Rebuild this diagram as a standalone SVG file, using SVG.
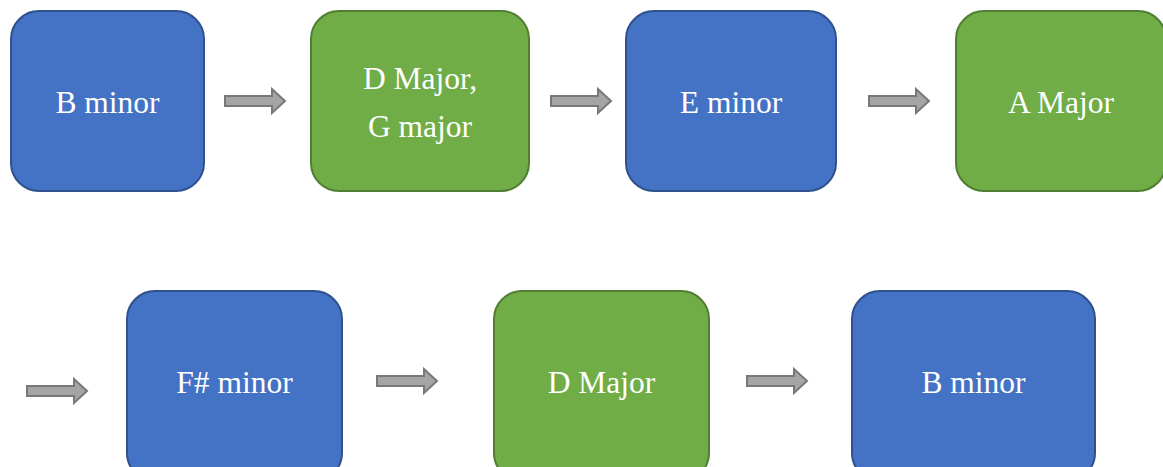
<svg xmlns="http://www.w3.org/2000/svg" width="1163" height="467" viewBox="0 0 1163 467">
  <defs>
    <style>
      .blue { fill: #4472C4; stroke: #2F528F; stroke-width: 2; }
      .green { fill: #70AD47; stroke: #507E32; stroke-width: 2; }
      .label { fill: #FFFFFF; font-family: "Liberation Serif", "Times New Roman", serif; font-size: 31.5px; text-anchor: middle; }
      .arrow { fill: #A5A5A5; stroke: #787878; stroke-width: 2; }
    </style>
    <!-- block arrow, 60 wide, centred on y=0 -->
    <polygon id="blockArrow" class="arrow" points="0,-5 47,-5 47,-12 60,0 47,12 47,5 0,5"/>
  </defs>

  <rect width="1163" height="467" fill="#FFFFFF"/>

  <g id="node-b-minor-1">
    <rect class="blue" x="11" y="11" width="193" height="180" rx="28"/>
    <text class="label" x="107.5" y="113">B minor</text>
  </g>
  <g id="node-d-g-major">
    <rect class="green" x="311" y="11" width="218" height="180" rx="28"/>
    <text class="label" x="420" y="89">D Major,</text>
    <text class="label" x="420" y="137">G major</text>
  </g>
  <g id="node-e-minor">
    <rect class="blue" x="626" y="11" width="210" height="180" rx="28"/>
    <text class="label" x="731" y="113">E minor</text>
  </g>
  <g id="node-a-major">
    <rect class="green" x="956" y="11" width="210" height="180" rx="28"/>
    <text class="label" x="1061" y="113">A Major</text>
  </g>
  <g id="node-f-sharp-minor">
    <rect class="blue" x="127" y="291" width="215" height="190" rx="28"/>
    <text class="label" x="234.5" y="393">F# minor</text>
  </g>
  <g id="node-d-major">
    <rect class="green" x="494" y="291" width="215" height="190" rx="28"/>
    <text class="label" x="601.5" y="393">D Major</text>
  </g>
  <g id="node-b-minor-2">
    <rect class="blue" x="852" y="291" width="243" height="190" rx="28"/>
    <text class="label" x="973.5" y="393">B minor</text>
  </g>

  <g id="connectors">
    <use href="#blockArrow" x="225" y="101"/>
    <use href="#blockArrow" x="551" y="101"/>
    <use href="#blockArrow" x="869" y="101"/>
    <use href="#blockArrow" x="27" y="391"/>
    <use href="#blockArrow" x="377" y="381"/>
    <use href="#blockArrow" x="747" y="381"/>
  </g>
</svg>
